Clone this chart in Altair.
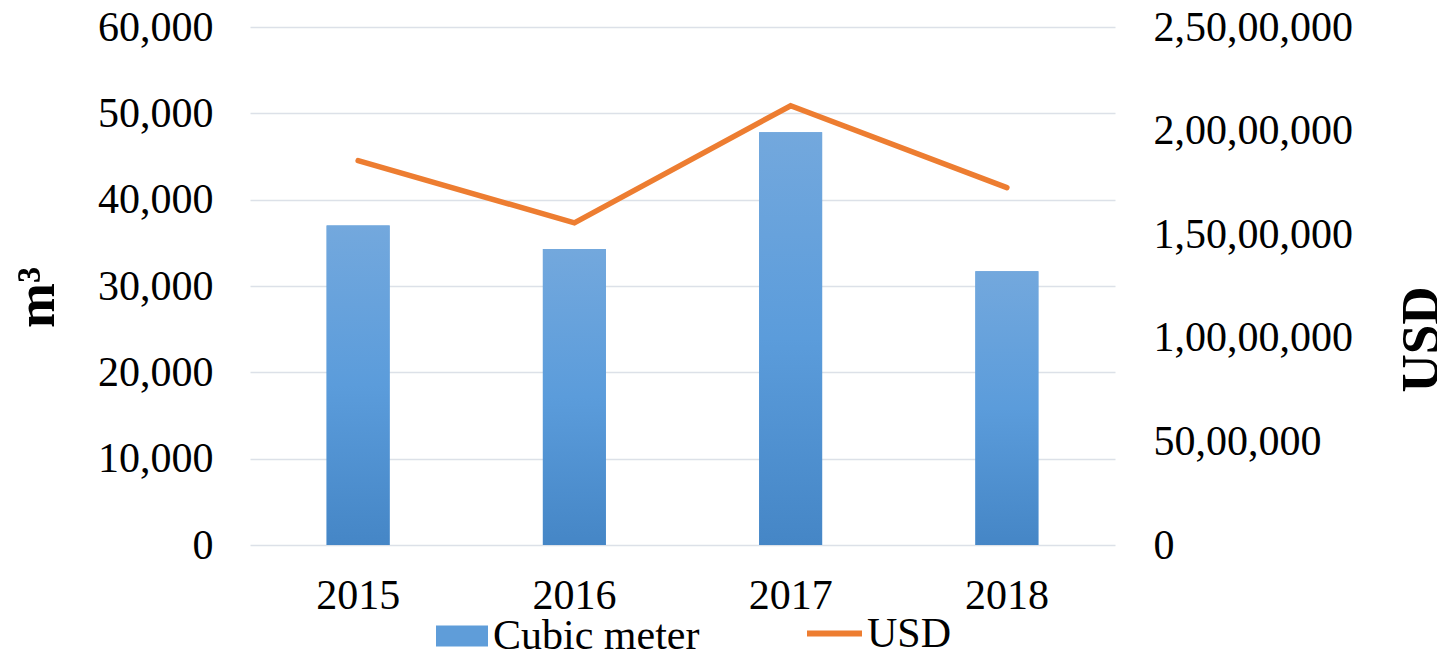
import altair as alt
import pandas as pd

# ---- data ----
years = ["2015", "2016", "2017", "2018"]
cubic_meter = [37000, 34300, 47800, 31700]
usd = [18550000, 15550000, 21200000, 17250000]
series_names = ["Cubic meter", "USD"]

m3_ticks = [0, 10000, 20000, 30000, 40000, 50000, 60000]
usd_ticks = [0, 5000000, 10000000, 15000000, 20000000, 25000000]
usd_tick_labels = ["0", "50,00,000", "1,00,00,000", "1,50,00,000", "2,00,00,000", "2,50,00,000"]

df = pd.DataFrame({
    "year": years, "cubic": cubic_meter, "usd": usd,
    "s_bar": [series_names[0]] * len(years),
    "s_line": [series_names[1]] * len(years),
})

FONT = "Liberation Serif"
BLUE = "#5f9dd9"
ORANGE = "#ed7d31"
GRID = "#dce1e8"

stops = [
    {"offset": 0, "color": "#73a8dd"},
    {"offset": 0.5, "color": "#5b9cdb"},
    {"offset": 1, "color": "#4586c6"},
]
grad = alt.LinearGradient(
    gradient="linear", x1=0, y1=0, x2=0, y2=1,
    stops=[alt.GradientStop(offset=s["offset"], color=s["color"]) for s in stops],
)

usd_label_expr = f"{usd_tick_labels}[indexof({usd_ticks}, datum.value)]"

X = alt.X(
    "year:N", sort=years,
    scale=alt.Scale(paddingInner=0, paddingOuter=0),
    axis=alt.Axis(
        title=None, labelAngle=0, domain=False, ticks=False, tickSize=0, grid=False,
        labelFont=FONT, labelFontSize=42, labelColor="black",
        labelPadding=63, labelBaseline="alphabetic",
    ),
)

Y_left = alt.Y(
    "cubic:Q",
    scale=alt.Scale(domain=[0, 60000], nice=False),
    axis=alt.Axis(
        values=m3_ticks, format=",d", grid=True, gridColor=GRID, gridWidth=1.6,
        domain=False, ticks=False, tickSize=0, labelLimit=400,
        labelFont=FONT, labelFontSize=42, labelColor="black", labelPadding=37,
        title="m³", titleFont=FONT, titleFontSize=54, titleFontWeight="bold",
        titleColor="black", titleAngle=270, titleX=-197, titleY=270,
        titleAlign="center", titleBaseline="alphabetic", titleLimit=400,
    ),
)

Y_right = alt.Y(
    "usd:Q",
    scale=alt.Scale(domain=[0, 25000000], nice=False),
    axis=alt.Axis(
        orient="right", values=usd_ticks, labelExpr=usd_label_expr, grid=False,
        domain=False, ticks=False, tickSize=0, labelLimit=400,
        labelFont=FONT, labelFontSize=42, labelColor="black", labelPadding=38,
        title="USD", titleFont=FONT, titleFontSize=53, titleFontWeight="bold",
        titleColor="black", titleAngle=270, titleX=322, titleY=312,
        titleAlign="center", titleBaseline="alphabetic", titleLimit=400,
    ),
)

base = alt.Chart(df)

bars_legend = base.mark_bar(size=63).encode(
    x=X, y=Y_left,
    fill=alt.Fill(
        "s_bar:N",
        scale=alt.Scale(domain=[series_names[0]], range=[BLUE]),
        legend=alt.Legend(
            orient="none", legendX=186, legendY=583, title=None, padding=0,
            symbolType="M-1,-0.4H1V0.4H-1Z", symbolSize=2704, symbolStrokeWidth=0,
            labelFont=FONT, labelFontSize=42, labelColor="black", labelOffset=5,
            labelLimit=400,
        ),
    ),
)

bars_grad = base.mark_bar(size=63, color=grad).encode(x=X, y=Y_left)

line = base.mark_line(strokeWidth=5.5, strokeCap="round", strokeJoin="miter").encode(
    x=X, y=Y_right,
    stroke=alt.Stroke(
        "s_line:N",
        scale=alt.Scale(domain=[series_names[1]], range=[ORANGE]),
        legend=alt.Legend(
            orient="none", legendX=554, legendY=576, title=None, padding=0,
            symbolType="stroke", symbolSize=3025, symbolStrokeWidth=6,
            labelFont=FONT, labelFontSize=42, labelColor="black", labelOffset=2,
            labelLimit=400,
        ),
    ),
)

chart = (
    alt.layer(alt.layer(bars_legend, bars_grad), line)
    .resolve_scale(y="independent")
    .properties(
        width=865, height=518,
        padding={"left": 242, "top": 19, "right": 322, "bottom": 107},
        autosize=alt.AutoSizeParams(type="none"),
        background="white",
    )
    .configure_view(stroke=None)
)

chart.save("out.html", embed_options={"renderer": "svg", "actions": False})
